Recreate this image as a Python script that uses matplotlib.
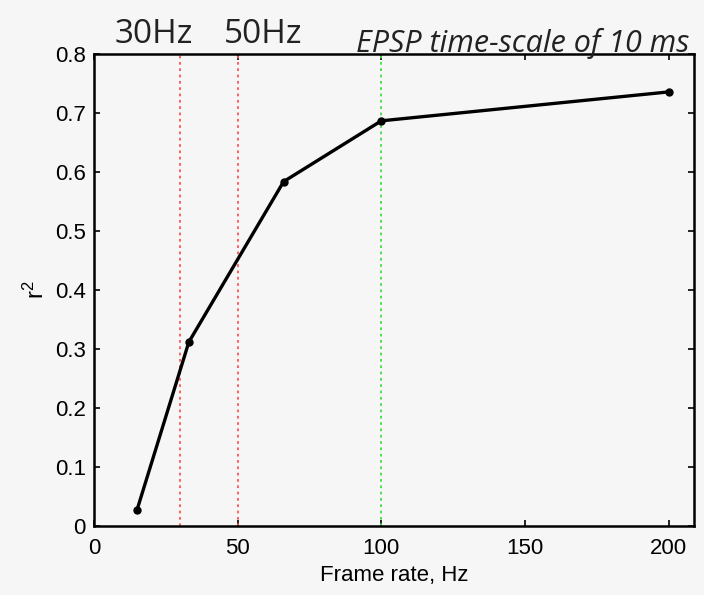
import numpy as np
import matplotlib.pyplot as plt

rate = [15, 33, 66, 100, 200]
r2 = [0.027, 0.311, 0.583, 0.686, 0.735]
red_lines = [30, 50]
green_line = 100

bg = '#f6f6f6'
plt.rcParams['font.family'] = ['Liberation Sans', 'DejaVu Sans']
fig = plt.figure(figsize=(7.04, 5.95), dpi=100, facecolor=bg)
ax = fig.add_axes([0.1335, 0.1165, 0.853, 0.7935], facecolor=bg)

for x in red_lines:
    ax.axvline(x, color='#ff5555', ls=(0, (1.5, 2)), lw=1.3)
ax.axvline(green_line, color='#44dd44', ls=(0, (1.5, 2)), lw=1.3)
ax.plot(rate, r2, color='black', lw=2.4, marker='o', ms=5)

ax.set_xlim(0, 209)
ax.set_ylim(0, 0.8)
ax.set_xticks([0, 50, 100, 150, 200])
ax.set_yticks(np.arange(0, 0.81, 0.1))
ax.set_yticklabels(['0', '0.1', '0.2', '0.3', '0.4', '0.5', '0.6', '0.7', '0.8'])
ax.tick_params(direction='in', top=True, right=True, labelsize=16, length=4, width=1.2)
ax.tick_params(axis='x', pad=9)
ax.tick_params(axis='y', pad=6)
for s in ax.spines.values():
    s.set_linewidth(1.8)
ax.set_xlabel('Frame rate, Hz', fontsize=16, labelpad=4)
ax.set_ylabel(r'$\mathregular{r^2}$', fontsize=17, labelpad=4)

fig.text(0.163, 0.928, '30Hz', fontsize=24, family='Open Sans', ha='left', va='baseline', color='#222222')
fig.text(0.318, 0.928, '50Hz', fontsize=24, family='Open Sans', ha='left', va='baseline', color='#222222')
fig.text(0.506, 0.913, 'EPSP time-scale of 10 ms', fontsize=22, family='Open Sans',
         style='italic', ha='left', va='baseline', color='#222222')

fig.savefig('out.png', dpi=100, facecolor=bg)
